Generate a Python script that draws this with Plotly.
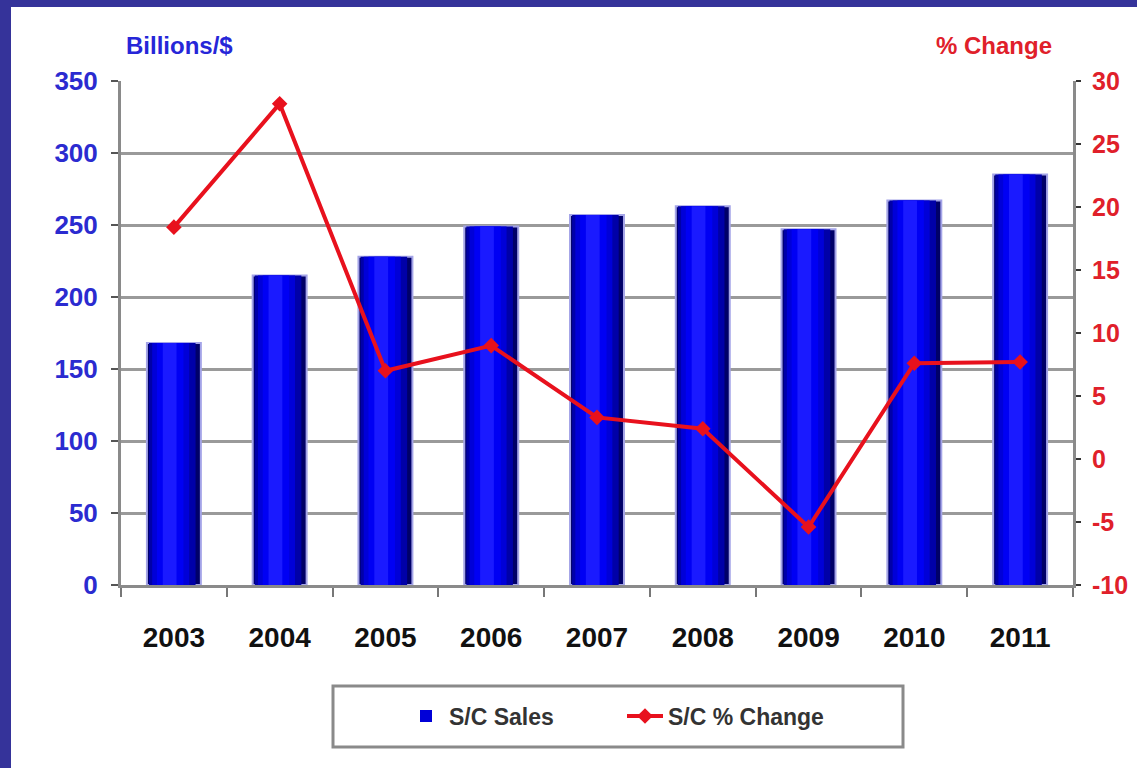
import plotly.graph_objects as go

# Semiconductor sales (billions of dollars) and year-over-year % change
years = ["2003", "2004", "2005", "2006", "2007", "2008", "2009", "2010", "2011"]
sales = [168, 215, 228, 249, 257, 263, 247, 267, 285]
pct_change = [18.4, 28.2, 7.0, 9.0, 3.3, 2.4, -5.4, 7.6, 7.7]

left_ticks = [0, 50, 100, 150, 200, 250, 300, 350]
right_ticks = [-10, -5, 0, 5, 10, 15, 20, 25, 30]
right_labels = ["-10", "-5", "0", "5", "10", "15", "20", "25", "30"]

W, H = 1137, 768
ML, MR, MT, MB = 121, 64, 81, 183
PW = W - ML - MR
PH = H - MT - MB


def fx(px):
    return (px - ML) / PW


def fy(py):
    return (H - MB - py) / PH


FONT = "Arial, Liberation Sans, sans-serif"
BORDER = "#35339a"

fig = go.Figure()

# Cylinder-style shading: a dark outer bar with progressively brighter,
# narrower bars laid over it (highlight sits a little left of centre).
shade_layers = [
    # width, offset shift, colour, show in legend
    (0.51, 0.0, "#000068", False),
    (0.44, -0.015, "#0000a8", False),
    (0.35, -0.03, "#0000d8", True),
    (0.25, -0.035, "#0000f4", False),
    (0.13, -0.04, "#1a1aff", False),
]
for i, (w, shift, color, show) in enumerate(shade_layers):
    fig.add_trace(
        go.Bar(
            x=years,
            y=sales,
            width=w,
            offset=-w / 2 + shift,
            name="S/C Sales",
            showlegend=show,
            marker=dict(
                color=color,
                line=dict(color="#a4a4e8" if i == 0 else color, width=2 if i == 0 else 0),
            ),
            hoverinfo="skip" if not show else None,
        )
    )

fig.add_trace(
    go.Scatter(
        x=years,
        y=pct_change,
        yaxis="y2",
        mode="lines+markers",
        name="S/C % Change",
        line=dict(color="#e8111d", width=4),
        marker=dict(symbol="diamond", size=12, color="#e8111d"),
    )
)

fig.update_layout(
    width=W,
    height=H,
    margin=dict(l=ML, r=MR, t=MT, b=MB, autoexpand=False),
    paper_bgcolor="white",
    plot_bgcolor="white",
    barmode="overlay",
    font=dict(family=FONT),
    xaxis=dict(
        type="category",
        range=[-0.5, 8.5],
        showgrid=False,
        showline=True,
        linecolor="#8a8a8a",
        linewidth=3,
        ticks="outside",
        tickson="boundaries",
        ticklen=9,
        tickwidth=2,
        tickcolor="#777",
        tickfont=dict(size=28, color="#111", family=FONT, weight="bold"),
        ticklabelstandoff=25,
    ),
    yaxis=dict(
        range=[0, 350],
        tickvals=left_ticks,
        showgrid=True,
        gridcolor="#9a9a9a",
        gridwidth=3,
        zeroline=False,
        showline=True,
        linecolor="#8a8a8a",
        linewidth=3,
        ticks="outside",
        ticklen=7,
        tickwidth=2,
        tickcolor="#555",
        tickfont=dict(size=26, color="#2b2bd0", family=FONT, weight="bold"),
        ticklabelstandoff=8,
    ),
    yaxis2=dict(
        range=[-10, 30],
        tickvals=right_ticks,
        ticktext=right_labels,
        overlaying="y",
        side="right",
        showgrid=False,
        zeroline=False,
        showline=True,
        linecolor="#8a8a8a",
        linewidth=3,
        ticks="outside",
        ticklen=5,
        tickwidth=2,
        tickcolor="#333",
        tickfont=dict(size=25, color="#e0202a", family=FONT, weight="bold"),
        ticklabelstandoff=6,
    ),
    legend=dict(
        orientation="h",
        x=fx(403),
        xanchor="left",
        y=fy(716),
        yanchor="middle",
        bgcolor="rgba(0,0,0,0)",
        borderwidth=0,
        font=dict(size=23, color="#333", family=FONT, weight="bold"),
        entrywidth=168,
        entrywidthmode="pixels",
        itemwidth=36,
    ),
    annotations=[
        dict(
            text="Billions/$",
            xref="paper", yref="paper",
            x=fx(124), y=fy(45),
            xanchor="left", yanchor="middle",
            showarrow=False,
            font=dict(size=24, color="#2626d8", family=FONT, weight="bold"),
        ),
        dict(
            text="% Change",
            xref="paper", yref="paper",
            x=fx(1054), y=fy(45),
            xanchor="right", yanchor="middle",
            showarrow=False,
            font=dict(size=24, color="#e0202a", family=FONT, weight="bold"),
        ),
    ],
    shapes=[
        # frame strips along the left and top edges
        dict(type="rect", xref="paper", yref="paper", layer="below",
             x0=fx(0), x1=fx(11), y0=fy(H), y1=fy(0),
             fillcolor=BORDER, line=dict(width=0)),
        dict(type="rect", xref="paper", yref="paper", layer="below",
             x0=fx(0), x1=fx(W), y0=fy(7), y1=fy(0),
             fillcolor=BORDER, line=dict(width=0)),
        # legend box
        dict(type="rect", xref="paper", yref="paper", layer="below",
             x0=fx(333), x1=fx(903), y0=fy(747), y1=fy(686),
             fillcolor="white", line=dict(color="#8a8a8a", width=3)),
    ],
)

fig.write_html("out.html")
